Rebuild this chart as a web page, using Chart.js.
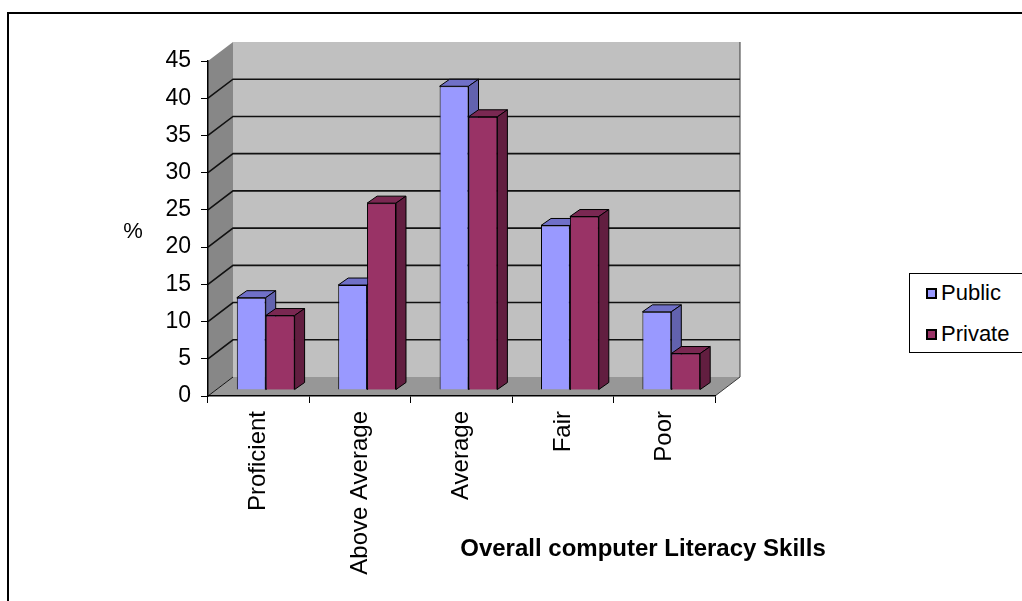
<!DOCTYPE html>
<html>
<head>
<meta charset="utf-8">
<script src="https://cdn.jsdelivr.net/npm/chart.js@4.4.1/dist/chart.umd.min.js"></script>
<style>
  body { margin: 0; background: #fff; }
  #wrap { position: relative; width: 1022px; height: 601px; }
  .legend {
    position: absolute; left: 909px; top: 273px; width: 112px; height: 78px;
    border: 1px solid #000; background: #fff;
    font: 22px "Liberation Sans", Arial, sans-serif; color: #000;
  }
  .legend div { position: absolute; left: 16px; height: 26px; line-height: 26px; }
  .legend span.box {
    display: inline-block; width: 7px; height: 7px; border: 2px solid #000;
    margin-right: 4px; vertical-align: 1px;
  }
</style>
</head>
<body>
<div id="wrap">
  <canvas id="skillsChart" width="1022" height="601"></canvas>
  <div class="legend" id="legend"></div>
</div>
<script>
// DATA
const categories = ["Proficient", "Above Average", "Average", "Fair", "Poor"];
const seriesNames = ["Public", "Private"];
const publicValues = [12.4, 14.1, 40.8, 22.1, 10.5];
const privateValues = [10, 25.1, 36.7, 23.3, 4.9];
const yMax = 45;
const yStep = 5;

// STYLE
const FONT = '"Liberation Sans", Arial, sans-serif';
const frontColors = ["#9999FF", "#993366"];
const topColors = ["#7070C8", "#7A2852"];
const sideColors = ["#6262AE", "#621E40"];

// depth of the box (walls) and of the bars
const WALL_DX = 25, WALL_DY = 19;
const BAR_DX = 10, BAR_DY = 7;
const BAR_SHIFT_X = 7, BAR_SHIFT_Y = -6;

function drawBarFaces(ctx, bar, i) {
  const { x, y, base, width } = bar.getProps(["x", "y", "base", "width"], true);
  const l = x - width / 2;
  const r = x + width / 2;
  // top face
  ctx.fillStyle = topColors[i];
  ctx.beginPath();
  ctx.moveTo(l, y);
  ctx.lineTo(l + BAR_DX, y - BAR_DY);
  ctx.lineTo(r + BAR_DX, y - BAR_DY);
  ctx.lineTo(r, y);
  ctx.closePath();
  ctx.fill();
  ctx.stroke();
  // side face
  ctx.fillStyle = sideColors[i];
  ctx.beginPath();
  ctx.moveTo(r, y);
  ctx.lineTo(r + BAR_DX, y - BAR_DY);
  ctx.lineTo(r + BAR_DX, base - BAR_DY);
  ctx.lineTo(r, base);
  ctx.closePath();
  ctx.fill();
  ctx.stroke();
}

const box3d = {
  id: "box3d",
  beforeDraw(chart) {
    const { ctx, chartArea: { left, right } } = chart;
    const yScale = chart.scales.y;
    const y0 = yScale.getPixelForValue(0);
    const yTop = yScale.getPixelForValue(yMax);

    ctx.save();
    // outer frame
    ctx.strokeStyle = "#000";
    ctx.lineWidth = 2;
    ctx.beginPath();
    ctx.moveTo(8, 601);
    ctx.lineTo(8, 13);
    ctx.lineTo(1022, 13);
    ctx.stroke();

    // left wall
    ctx.fillStyle = "#878787";
    ctx.beginPath();
    ctx.moveTo(left, y0);
    ctx.lineTo(left, yTop);
    ctx.lineTo(left + WALL_DX, yTop - WALL_DY);
    ctx.lineTo(left + WALL_DX, y0 - WALL_DY);
    ctx.closePath();
    ctx.fill();

    // back wall
    ctx.fillStyle = "#C0C0C0";
    ctx.fillRect(left + WALL_DX, yTop - WALL_DY, right - left, y0 - yTop);

    // floor
    ctx.fillStyle = "#979797";
    ctx.beginPath();
    ctx.moveTo(left, y0);
    ctx.lineTo(left + WALL_DX, y0 - WALL_DY);
    ctx.lineTo(right + WALL_DX, y0 - WALL_DY);
    ctx.lineTo(right, y0);
    ctx.closePath();
    ctx.fill();

    ctx.strokeStyle = "#3a3a3a";
    ctx.lineWidth = 1;
    ctx.beginPath();
    ctx.moveTo(right, y0);
    ctx.lineTo(right + WALL_DX, y0 - WALL_DY);
    ctx.lineTo(right + WALL_DX, yTop - WALL_DY);
    ctx.stroke();

    // gridlines on the side and back walls
    ctx.strokeStyle = "#111";
    for (let v = 0; v < yMax; v += yStep) {
      const yf = yScale.getPixelForValue(v);
      ctx.lineWidth = v === 0 ? 1 : 1.6;
      ctx.beginPath();
      ctx.moveTo(left, yf);
      ctx.lineTo(left + WALL_DX, yf - WALL_DY);
      if (v > 0) ctx.lineTo(right + WALL_DX, yf - WALL_DY);
      ctx.stroke();
    }
    ctx.restore();
  },
  beforeDatasetsDraw(chart) {
    chart.ctx.save();
    chart.ctx.translate(BAR_SHIFT_X, BAR_SHIFT_Y);
  },
  afterDatasetsDraw(chart) {
    // public faces first, then the private bar is drawn again over them
    const ctx = chart.ctx;
    const pubMeta = chart.getDatasetMeta(0);
    const privMeta = chart.getDatasetMeta(1);
    ctx.save();
    ctx.strokeStyle = "#000";
    ctx.lineWidth = 1;
    ctx.lineJoin = "round";
    pubMeta.data.forEach((bar, k) => {
      drawBarFaces(ctx, bar, 0);
      const priv = privMeta.data[k];
      priv.draw(ctx);
      ctx.strokeStyle = "#000";
      ctx.lineWidth = 1;
      drawBarFaces(ctx, priv, 1);
    });
    ctx.restore();
    ctx.restore();
  },
  afterDraw(chart) {
    const ctx = chart.ctx;
    ctx.save();
    ctx.fillStyle = "#000";
    ctx.textAlign = "center";
    ctx.textBaseline = "middle";
    ctx.font = "22px " + FONT;
    ctx.fillText("%", 133, 232);
    ctx.font = "bold 24px " + FONT;
    ctx.fillText("Overall computer Literacy Skills", 643, 549);
    ctx.restore();
  },
};

Chart.defaults.font.family = FONT;
Chart.defaults.color = "#000";

new Chart(document.getElementById("skillsChart"), {
  type: "bar",
  data: {
    labels: categories,
    datasets: [
      {
        label: seriesNames[0],
        data: publicValues,
        backgroundColor: frontColors[0],
        borderColor: "#000",
        borderWidth: 1,
      },
      {
        label: seriesNames[1],
        data: privateValues,
        backgroundColor: frontColors[1],
        borderColor: "#000",
        borderWidth: 1,
      },
    ],
  },
  options: {
    responsive: false,
    animation: false,
    clip: false,
    categoryPercentage: 0.57,
    barPercentage: 1.0,
    layout: { padding: { left: 108, top: 61, right: 307, bottom: 0 } },
    scales: {
      x: {
        grid: {
          offset: true,
          drawOnChartArea: false,
          color: "#000",
          tickLength: 7,
        },
        border: { display: true, color: "#000", width: 1.5 },
        ticks: {
          autoSkip: false,
          minRotation: 90,
          maxRotation: 90,
          padding: 8,
          font: { size: 24 },
        },
        afterFit(scale) {
          scale.height = 205;
        },
      },
      y: {
        min: 0,
        max: yMax,
        grid: {
          drawOnChartArea: false,
          color: "#000",
          tickLength: 7,
        },
        border: { display: true, color: "#000", width: 1.5 },
        ticks: {
          stepSize: yStep,
          padding: 10,
          font: { size: 23 },
        },
        afterFit(scale) {
          scale.width = 100;
        },
      },
    },
    plugins: {
      legend: { display: false },
      tooltip: { enabled: false },
    },
  },
  plugins: [box3d],
});

// LEGEND
const legend = document.getElementById("legend");
seriesNames.forEach((name, i) => {
  const row = document.createElement("div");
  row.style.top = i === 0 ? "6px" : "47px";
  row.innerHTML = `<span class="box" style="background:${frontColors[i]}"></span>${name}`;
  legend.appendChild(row);
});
</script>
</body>
</html>
